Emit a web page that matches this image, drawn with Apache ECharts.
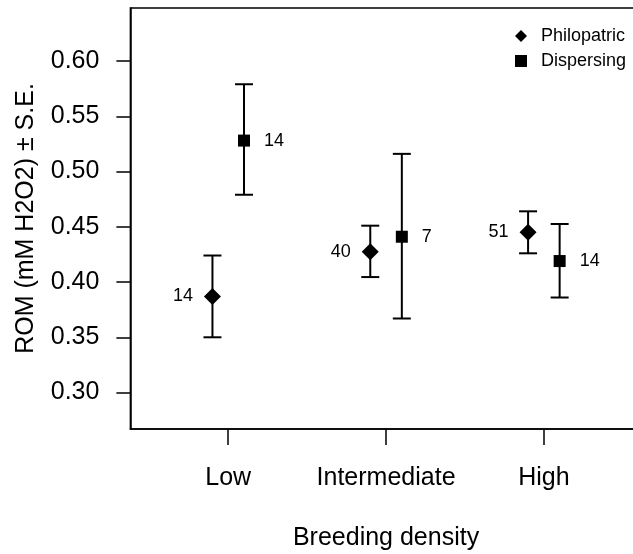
<!DOCTYPE html>
<html>
<head>
<meta charset="utf-8">
<script src="https://cdn.jsdelivr.net/npm/echarts@6/dist/echarts.min.js"></script>
<style>
html,body{margin:0;padding:0;background:#fff;}
#chart{width:633px;height:554px;}
</style>
</head>
<body>
<div id="chart"></div>
<script>
// ---- data ----
var categories = ['Low', 'Intermediate', 'High'];
var seriesNames = ['Philopatric', 'Dispersing'];
var philoMean = [0.387, 0.4275, 0.445];
var philoLow  = [0.350, 0.4045, 0.426];
var philoHigh = [0.424, 0.451, 0.464];
var philoN    = [14, 40, 51];
var dispMean  = [0.528, 0.441, 0.419];
var dispLow   = [0.479, 0.367, 0.386];
var dispHigh  = [0.579, 0.516, 0.4525];
var dispN     = [14, 7, 14];
var yTicks = [0.30, 0.35, 0.40, 0.45, 0.50, 0.55, 0.60];
var xTicks = [1, 2, 3];

// ---- build ----
var dodge = 0.1;
var FONT = 'Liberation Sans, Arial, sans-serif';
function pts(mean, n, off) {
  return mean.map(function (m, i) { return [i + 1 + off, m, n[i]]; });
}
function bars(lo, hi, off) {
  return lo.map(function (l, i) { return [i + 1 + off, l, hi[i]]; });
}
function errRender(params, api) {
  var x = api.value(0);
  var p1 = api.coord([x, api.value(1)]);
  var p2 = api.coord([x, api.value(2)]);
  var hw = 9;
  var st = { stroke: '#000', lineWidth: 2 };
  return {
    type: 'group',
    children: [
      { type: 'line', shape: { x1: p1[0], y1: p1[1], x2: p2[0], y2: p2[1] }, style: st },
      { type: 'line', shape: { x1: p1[0] - hw, y1: p1[1], x2: p1[0] + hw, y2: p1[1] }, style: st },
      { type: 'line', shape: { x1: p2[0] - hw, y1: p2[1], x2: p2[0] + hw, y2: p2[1] }, style: st }
    ]
  };
}

var chart = echarts.init(document.getElementById('chart'), null, { renderer: 'canvas' });
chart.setOption({
  animation: false,
  backgroundColor: '#fff',
  textStyle: { fontFamily: FONT, color: '#000' },
  grid: { left: 130.4, top: 8, width: 511.3, bottom: 125, show: true, borderColor: '#000', borderWidth: 1.5,
    containLabel: false, outerBoundsMode: 'none' },
  legend: {
    orient: 'vertical',
    left: 510, top: 22,
    itemWidth: 30, itemHeight: 12, itemGap: 7,
    symbolKeepAspect: true,
    textStyle: { fontFamily: FONT, fontSize: 18, color: '#000' },
    data: [
      { name: seriesNames[0], icon: 'path://M0,-1L1,0L0,1L-1,0Z', itemStyle: { color: '#000', opacity: 1 } },
      { name: seriesNames[1], icon: 'path://M0,0H1V1H0Z', itemStyle: { color: '#000', opacity: 1 } }
    ]
  },
  xAxis: {
    type: 'value', min: 0.38, max: 3.62,
    name: 'Breeding density', nameLocation: 'middle', nameGap: 97,
    nameTextStyle: { fontFamily: FONT, fontSize: 25, color: '#000' },
    axisLine: { show: true, lineStyle: { color: '#000', width: 1.5 } },
    axisTick: { show: true, customValues: xTicks, length: 16, lineStyle: { color: '#000', width: 1.5 } },
    axisLabel: { show: true, customValues: xTicks, margin: 37, fontFamily: FONT, fontSize: 25, color: '#000',
      formatter: function (v) { return categories[Math.round(v) - 1] || ''; } },
    splitLine: { show: false }
  },
  yAxis: {
    type: 'value', min: 0.267, max: 0.648,
    name: 'ROM (mM H2O2) \u00b1 S.E.', nameLocation: 'middle', nameGap: 92,
    nameTextStyle: { fontFamily: FONT, fontSize: 25, color: '#000' },
    axisLine: { show: true, lineStyle: { color: '#000', width: 1.5 } },
    axisTick: { show: true, customValues: yTicks, length: 14, lineStyle: { color: '#000', width: 1.5 } },
    axisLabel: { show: true, customValues: yTicks, margin: 31, fontFamily: FONT, fontSize: 25, color: '#000',
      formatter: function (v) { return v.toFixed(2); } },
    splitLine: { show: false }
  },
  series: [
    { type: 'custom', renderItem: errRender, data: bars(philoLow, philoHigh, -dodge), encode: { x: 0, y: [1, 2] }, z: 1, silent: true },
    { type: 'custom', renderItem: errRender, data: bars(dispLow, dispHigh, dodge), encode: { x: 0, y: [1, 2] }, z: 1, silent: true },
    {
      name: seriesNames[0], type: 'scatter', symbol: 'diamond', symbolSize: 17, z: 3,
      itemStyle: { color: '#000', opacity: 1 },
      label: { show: true, position: 'left', distance: 11, fontFamily: FONT, fontSize: 18, color: '#000',
        formatter: function (p) { return String(p.value[2]); } },
      data: pts(philoMean, philoN, -dodge)
    },
    {
      name: seriesNames[1], type: 'scatter', symbol: 'rect', symbolSize: 12, z: 3,
      itemStyle: { color: '#000', opacity: 1 },
      label: { show: true, position: 'right', distance: 14, fontFamily: FONT, fontSize: 18, color: '#000',
        formatter: function (p) { return String(p.value[2]); } },
      data: pts(dispMean, dispN, dodge)
    }
  ]
});
</script>
</body>
</html>
